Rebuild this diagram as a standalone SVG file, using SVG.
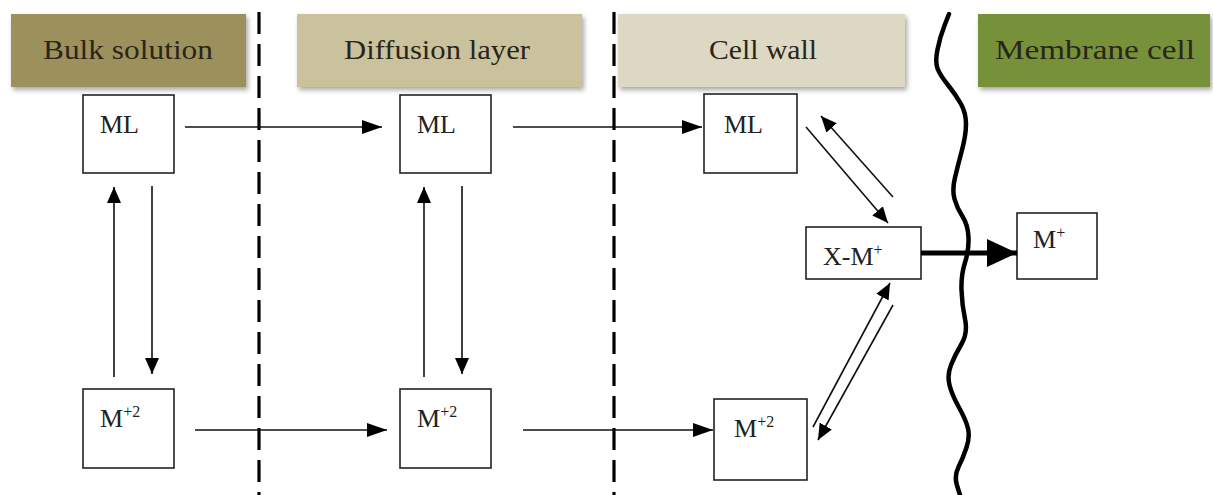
<svg xmlns="http://www.w3.org/2000/svg" width="1213" height="495" viewBox="0 0 1213 495">
<defs>
<style>
.hdr{font-family:"Liberation Serif","DejaVu Serif",serif;font-size:27px;fill:#2a2519;text-anchor:middle}
.lbl{font-family:"Liberation Serif","DejaVu Serif",serif;font-size:26px;fill:#222}
.sup{font-size:16px}
.box{fill:#fff;stroke:#222;stroke-width:1.6}
.ln{stroke:#111;stroke-width:1.6;fill:none}
.dash{stroke:#000;stroke-width:3.2;stroke-dasharray:22 10;fill:none}
</style>
<filter id="sh" x="-10%" y="-20%" width="125%" height="150%">
<feDropShadow dx="2" dy="3" stdDeviation="2.5" flood-color="#000" flood-opacity="0.35"/>
</filter>
<marker id="ah" markerUnits="userSpaceOnUse" markerWidth="22" markerHeight="16" refX="20" refY="7" orient="auto">
<path d="M0,0 L20,7 L0,14 Z" fill="#000"/>
</marker>
<marker id="av" markerUnits="userSpaceOnUse" markerWidth="18" markerHeight="16" refX="16" refY="7" orient="auto">
<path d="M0,0 L16,7 L0,14 Z" fill="#000"/>
</marker>
<marker id="ab" markerUnits="userSpaceOnUse" markerWidth="32" markerHeight="30" refX="30" refY="14" orient="auto">
<path d="M0,0 L30,14 L0,28 Z" fill="#000"/>
</marker>
</defs>
<rect width="1213" height="495" fill="#fff"/>

<g id="headers">
<g id="h-bulk"><rect x="11" y="14" width="235" height="73" fill="#9c915d" filter="url(#sh)"/><text class="hdr" x="128" y="59" textLength="170" lengthAdjust="spacingAndGlyphs">Bulk solution</text></g>
<g id="h-diff"><rect x="297" y="14" width="285" height="73" fill="#c9c29d" filter="url(#sh)"/><text class="hdr" x="437" y="59" textLength="186" lengthAdjust="spacingAndGlyphs">Diffusion layer</text></g>
<g id="h-wall"><rect x="618" y="14" width="287" height="73" fill="#ddd8c3" filter="url(#sh)"/><text class="hdr" x="763" y="59" textLength="108" lengthAdjust="spacingAndGlyphs">Cell wall</text></g>
<g id="h-mem"><rect x="978" y="14" width="232" height="73" fill="#77913b" filter="url(#sh)"/><text class="hdr" x="1095" y="59" textLength="200" lengthAdjust="spacingAndGlyphs" fill="#1e2410">Membrane cell</text></g>
</g>

<g id="boundaries">
<line class="dash" x1="259" y1="12" x2="259" y2="495"/>
<line class="dash" x1="614" y1="12" x2="614" y2="495"/>
<path fill="none" stroke="#000" stroke-width="4.5" stroke-linejoin="round" stroke-linecap="round" d="M949,14 L944.5,25.5 Q940,37 937.5,49.5 Q935,62 937.5,68.5 Q940,75 948,85 Q956,95 961,104 Q966,113 966,124 Q966,135 962,150 Q958,165 955,177.5 Q952,190 954.5,199 Q957,208 962.5,216.5 Q968,225 968.5,237.5 Q969,250 965,262.5 Q961,275 961.5,290 Q962,305 965,319 Q968,333 961.5,344 Q955,355 951,365 Q947,375 949.5,385 Q952,395 959,407.5 Q966,420 968,428.5 Q970,437 966.5,447.5 Q963,458 958.5,467 Q954,476 957,485.5 L960,495"/>
</g>

<g id="ML1"><rect class="box" x="83" y="95" width="91" height="78"/><text class="lbl" x="100" y="133">ML</text></g>
<g id="ML2"><rect class="box" x="400" y="95" width="91" height="78"/><text class="lbl" x="417" y="133">ML</text></g>
<g id="ML3"><rect class="box" x="704" y="94" width="93" height="79"/><text class="lbl" x="724" y="133">ML</text></g>
<g id="M2a"><rect class="box" x="83" y="389" width="91" height="79"/><text class="lbl" x="100" y="427">M<tspan class="sup" dy="-10">+2</tspan></text></g>
<g id="M2b"><rect class="box" x="400" y="389" width="91" height="79"/><text class="lbl" x="417" y="427">M<tspan class="sup" dy="-10">+2</tspan></text></g>
<g id="M2c"><rect class="box" x="714" y="399" width="93" height="81"/><text class="lbl" x="734" y="437">M<tspan class="sup" dy="-10">+2</tspan></text></g>
<g id="XM"><rect class="box" x="806" y="227" width="115" height="52"/><text class="lbl" x="823" y="265">X-M<tspan class="sup" dy="-10">+</tspan></text></g>
<g id="Mp"><rect class="box" x="1017" y="213" width="80" height="66"/><text class="lbl" x="1033" y="248">M<tspan class="sup" dy="-10">+</tspan></text></g>

<g id="connectors">
<line class="ln" x1="185" y1="127" x2="382" y2="127" marker-end="url(#ah)"/>
<line class="ln" x1="513" y1="127" x2="702" y2="127" marker-end="url(#ah)"/>
<line class="ln" x1="195" y1="430" x2="387" y2="430" marker-end="url(#ah)"/>
<line class="ln" x1="523" y1="430" x2="713" y2="430" marker-end="url(#ah)"/>
<line class="ln" x1="114" y1="377" x2="114" y2="187" marker-end="url(#av)"/>
<line class="ln" x1="152" y1="186" x2="152" y2="374" marker-end="url(#av)"/>
<line class="ln" x1="424" y1="377" x2="424" y2="187" marker-end="url(#av)"/>
<line class="ln" x1="462" y1="186" x2="462" y2="374" marker-end="url(#av)"/>
<line class="ln" x1="806" y1="127" x2="888" y2="223" marker-end="url(#av)"/>
<line class="ln" x1="893" y1="197" x2="821" y2="116" marker-end="url(#av)"/>
<line class="ln" x1="813" y1="427" x2="890" y2="283" marker-end="url(#av)"/>
<line class="ln" x1="893" y1="305" x2="818" y2="440" marker-end="url(#av)"/>
<line x1="921" y1="253" x2="1017" y2="253" stroke="#000" stroke-width="5" marker-end="url(#ab)"/>
</g>
</svg>
